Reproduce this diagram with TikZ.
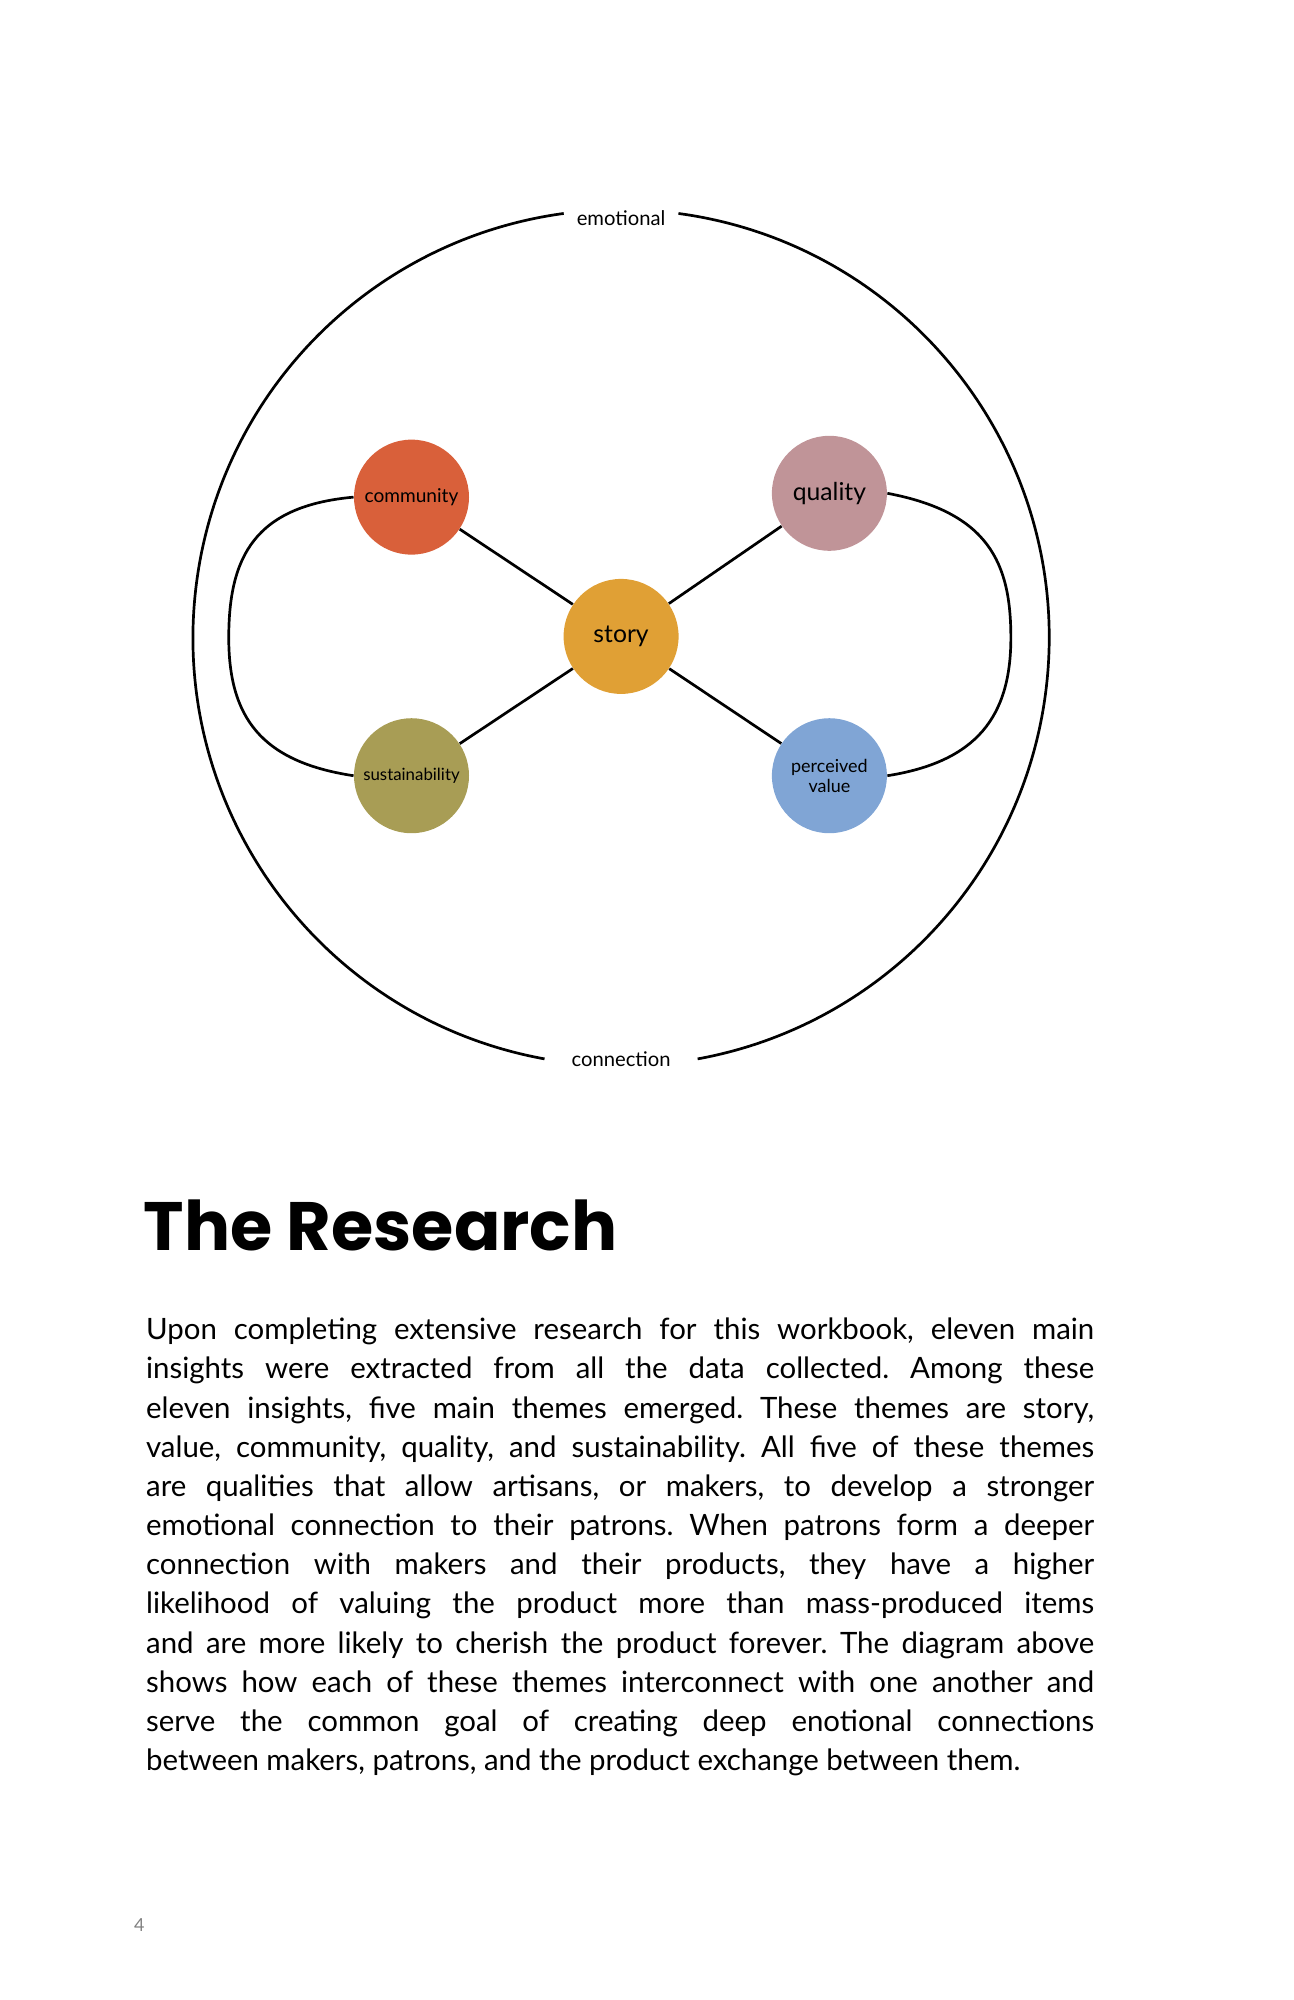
\documentclass[tikz,border=0pt]{standalone}
\usepackage{fontspec}
\setmainfont{Lato}
\newfontfamily\titlefont{Poppins}
\usetikzlibrary{positioning}
\definecolor{commcol}{HTML}{D9603A}
\definecolor{qualcol}{HTML}{C09498}
\definecolor{storycol}{HTML}{E0A035}
\definecolor{sustcol}{HTML}{A89D55}
\definecolor{valcol}{HTML}{80A5D5}
\tikzset{
  theme/.style={circle, minimum size=1.8cm, inner sep=0pt, align=center},
  link/.style={draw=black, line width=1.2pt},
  rimlabel/.style={font=\fontsize{9}{10}\selectfont, inner sep=1pt}
}
\begin{document}
\frenchspacing
\begin{tikzpicture}[x=0.02cm, y=-0.02cm]
\useasboundingbox (6,9) rectangle (1018,1574);
% outer ring
\draw [link] (492,508) ++(-82.3:335) arc[start angle=-82.3, end angle=79.7, radius=335];
\draw [link] (492,508) ++(100.3:335) arc[start angle=100.3, end angle=262.3, radius=335];
\node [rimlabel] (emo) at (492,180) {emotional};
\node [rimlabel] (con) at (492,838) {connection};
% themes
\node [theme, fill=storycol, font=\fontsize{11}{12}\selectfont] (story) at (492,507) {story};
\node [theme, fill=commcol, font=\fontsize{8.5}{9}\selectfont] (comm) at (328,398) {community};
\node [theme, fill=qualcol, font=\fontsize{11}{12}\selectfont] (qual) at (655,395) {quality};
\node [theme, fill=sustcol, font=\fontsize{7.5}{8}\selectfont] (sust) at (328,616) {sustainability};
\node [theme, fill=valcol, font=\fontsize{8}{9}\selectfont] (val) at (655,616) {perceived\\value};
\draw [link] (story) -- (comm);
\draw [link] (story) -- (qual);
\draw [link] (story) -- (sust);
\draw [link] (story) -- (val);
% loops
\draw [link] (comm.west) .. controls (205,405) and (185,445) .. (185,508)
  .. controls (185,570) and (210,605) .. (sust.west);
\draw [link] (qual.east) .. controls (780,410) and (797,450) .. (797,508)
  .. controls (797,570) and (770,605) .. (val.east);
% text
\node [anchor=west, font=\titlefont\bfseries\fontsize{30.5}{33}\selectfont, inner sep=0pt] (title) at (118,968) {The Research};
\node [anchor=north west, inner sep=0pt, text width=14.84cm, align=justify,
  font=\fontsize{13.1}{17.45}\selectfont] (body) at (120,1040) {%
Upon completing extensive research for this workbook, eleven main\linebreak
insights were extracted from all the data collected. Among these\linebreak
eleven insights, five main themes emerged. These themes are story,\linebreak
value, community, quality, and sustainability. All five of these themes\linebreak
are qualities that allow artisans, or makers, to develop a stronger\linebreak
emotional connection to their patrons. When patrons form a deeper\linebreak
connection with makers and their products, they have a higher\linebreak
likelihood of valuing the product more than mass-produced items\linebreak
and are more likely to cherish the product forever. The diagram above\linebreak
shows how each of these themes interconnect with one another and\linebreak
serve the common goal of creating deep enotional connections\linebreak
between makers, patrons, and the product exchange between them.};
\node [text=gray, font=\fontsize{8}{9}\selectfont] (page) at (115,1515) {4};
\end{tikzpicture}
\end{document}
